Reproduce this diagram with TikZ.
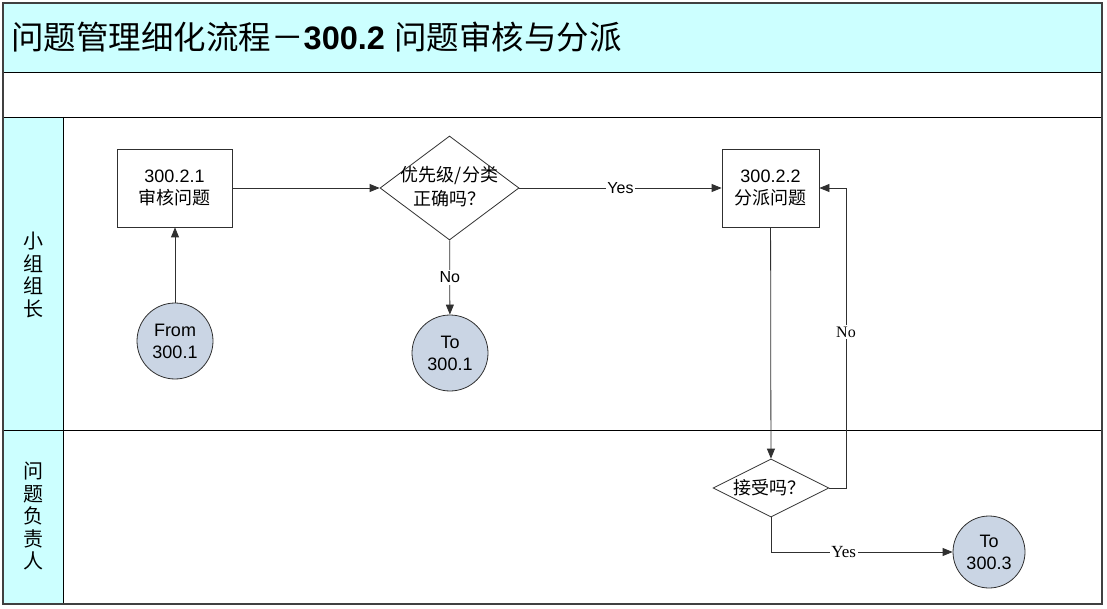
\documentclass[tikz,border=0pt]{standalone}
\usepackage{fontspec}
\setmainfont{Liberation Sans}
\newfontfamily\cjk{Noto Sans CJK SC}
\newfontfamily\seriffont{Liberation Serif}
\usetikzlibrary{shapes.geometric,arrows.meta}
\definecolor{lanecyan}{HTML}{CCFFFF}
\definecolor{circfill}{HTML}{CAD5E4}
\definecolor{framegray}{HTML}{404040}
\definecolor{linegray}{HTML}{303030}
\tikzset{
  txt/.style={font=\fontsize{18}{22}\selectfont, align=center},
  procbox/.style={draw=linegray, line width=0.8pt, fill=white, rectangle, inner sep=0pt, txt},
  decision/.style={draw=linegray, line width=0.8pt, fill=white, diamond, inner sep=0pt},
  connector/.style={draw=linegray, line width=0.8pt, fill=circfill, circle, inner sep=0pt, txt},
  arr/.style={draw=linegray, line width=0.8pt, -{Triangle[length=10pt,width=8pt]}},
  lbl/.style={fill=white, inner sep=1.5pt, font=\fontsize{16}{18}\selectfont},
  lanelbl/.style={font=\cjk\fontsize{20}{22.5}\selectfont, align=center}
}
\begin{document}
\begin{tikzpicture}[x=1pt,y=-1pt]
\useasboundingbox (0,0) rectangle (1107,609);
\fill[white] (0,0) rectangle (1107,609);
% bands
\fill[lanecyan] (3,3) rectangle (1102,72);
\fill[lanecyan] (3,117) rectangle (63,604);
\draw[line width=0.8pt] (3,72) -- (1102,72);
\draw[line width=0.8pt] (3,117) -- (1102,117);
\draw[line width=0.8pt] (3,430) -- (1102,430);
\draw[line width=0.8pt] (63,117) -- (63,604);
\draw[line width=2pt, framegray] (3,3) rectangle (1102,604);
% title
\node[anchor=west, inner sep=0pt, font=\fontsize{32.5}{36}\selectfont] (title) at (11,37)
  {{\cjk 问题管理细化流程－}\textbf{300.2} {\cjk 问题审核与分派}};
% lane labels
\node[lanelbl] (lane1) at (33,275) {小\\组\\组\\长};
\node[lanelbl] (lane2) at (33,516) {问\\题\\负\\责\\人};
% nodes
\node[procbox, minimum width=115pt, minimum height=78pt] (b1) at (174.5,188) {300.2.1\\{\cjk 审核问题}};
\node[decision, minimum width=139pt, minimum height=104pt] (d1) at (449.5,188) {};
\node[txt, font=\cjk\fontsize{18}{24}\selectfont] (d1t) at (449.5,187) {优先级/分类\\正确吗？};
\node[procbox, minimum width=97pt, minimum height=78pt] (b2) at (770.5,188) {300.2.2\\{\cjk 分派问题}};
\node[connector, minimum size=76pt] (c1) at (175,341) {From\\300.1};
\node[connector, minimum size=76pt] (c2) at (450,353) {To\\300.1};
\node[decision, minimum width=116pt, minimum height=58pt] (d2) at (771,488) {};
\node[txt, font=\cjk\fontsize{18}{22}\selectfont] (d2t) at (769,488) {接受吗？};
\node[connector, minimum size=72pt] (c3) at (989,552) {To\\300.3};
\coordinate (nk) at (846,488);
% connectors
\draw[arr] (c1) -- (c1 |- b1.south);
\draw[arr] (b1) -- (d1);
\draw[arr] (d1) -- node[lbl] {Yes} (b2);
\draw[arr] (d1) -- node[lbl] {No} (c2);
\draw[arr] (b2) -- (d2);
\draw[arr] (d2.east) -- (nk) |- node[lbl, pos=0.26, font=\seriffont\fontsize{16}{18}\selectfont] {No} (b2.east);
\draw[arr] (d2.south) |- node[lbl, pos=0.70, font=\seriffont\fontsize{17}{18}\selectfont] {Yes} (c3);
\end{tikzpicture}
\end{document}
